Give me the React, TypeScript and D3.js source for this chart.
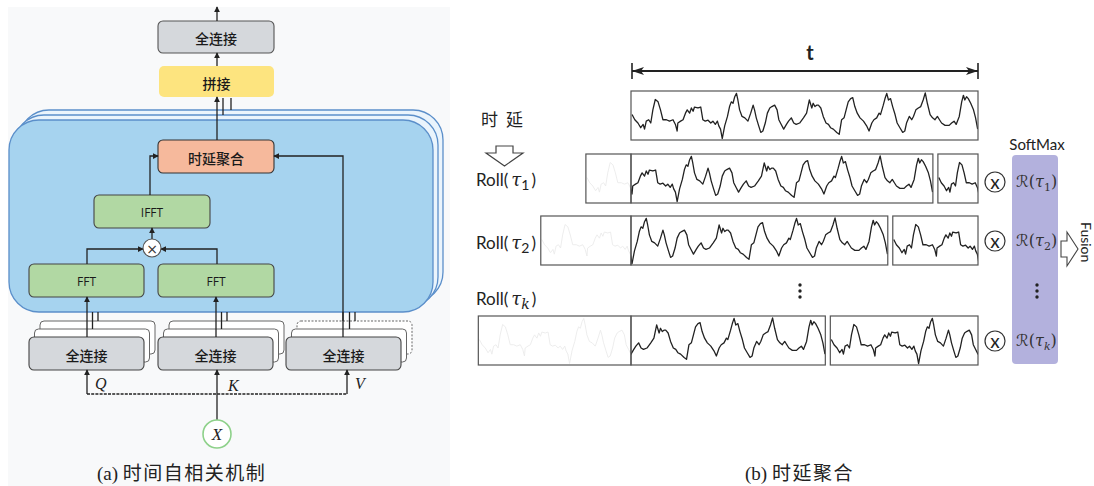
import React, { useEffect, useRef } from 'react';
import * as d3 from 'd3';

// waveform traced off the top (un-rolled) row: [time 0-100, level 0-100]
const signal: [number, number][] = [
  [0.3, 52], [1.1, 41], [2.0, 34], [2.8, 24], [3.5, 31], [3.9, 21], [4.4, 38], [5.1, 41], [5.7, 34], [6.3, 62],
  [7.0, 84], [7.8, 79], [8.5, 62], [9.2, 41], [10.2, 41], [11.1, 38], [12.1, 41], [12.8, 31], [13.3, 17], [13.5, 34],
  [14.3, 38], [15.0, 41], [15.7, 55], [16.2, 62], [16.9, 55], [17.4, 66], [17.9, 59], [18.3, 68], [19.3, 66], [20.1, 68],
  [20.7, 41], [21.4, 38], [22.2, 40], [23.0, 34], [23.6, 38], [24.3, 31], [24.9, 38], [25.3, 28], [25.8, 21], [26.3, 1],
  [27.0, 28], [27.8, 48], [28.4, 69], [28.9, 79], [29.4, 76], [29.9, 90], [30.4, 97], [30.8, 83], [31.3, 62], [32.0, 48],
  [32.8, 45], [33.7, 38], [34.5, 55], [35.2, 72], [35.6, 62], [36.1, 45], [36.8, 28], [37.4, 14], [38.0, 17], [38.7, 34],
  [39.3, 55], [40.0, 66], [40.6, 69], [41.4, 72], [42.1, 62], [42.6, 41], [43.3, 31], [44.0, 21], [44.8, 31], [45.4, 38],
  [46.2, 45], [46.9, 34], [47.6, 31], [48.6, 34], [49.7, 45], [50.6, 55], [51.4, 83], [52.1, 66], [52.5, 76], [53.0, 69],
  [53.5, 72], [54.0, 72], [54.7, 66], [55.4, 48], [56.2, 34], [56.9, 31], [57.5, 24], [58.3, 21], [59.3, 14], [60.0, 10],
  [60.7, 41], [61.4, 45], [62.0, 62], [62.6, 79], [63.3, 86], [63.9, 88], [64.5, 69], [65.2, 55], [66.0, 45], [67.0, 38],
  [67.9, 28], [68.6, 17], [69.4, 34], [70.0, 41], [70.8, 45], [71.5, 55], [71.9, 52], [72.7, 72], [73.2, 86], [73.7, 97],
  [74.2, 83], [74.8, 86], [75.4, 69], [76.1, 52], [76.7, 34], [77.5, 24], [78.3, 14], [78.9, 17], [79.4, 34], [80.2, 48],
  [80.9, 41], [81.4, 48], [82.1, 62], [82.8, 66], [83.5, 69], [84.2, 83], [84.8, 98], [85.4, 76], [86.2, 52], [86.9, 45],
  [87.6, 41], [88.3, 48], [88.9, 41], [89.5, 34], [90.5, 29], [91.7, 29], [92.4, 34], [93.1, 38], [93.7, 31], [94.6, 48],
  [95.3, 79], [95.8, 93], [96.2, 83], [96.7, 90], [97.2, 86], [97.9, 76], [98.7, 62], [99.3, 45], [99.9, 21],
];

// roll lags (same time units as signal) and their subscripts
const rollLags = [13, 26, 44];
const rollSubs = ['1', '2', 'k'];
const projLabels = ['Q', 'K', 'V'];

const App = () => {
  const ref = useRef<SVGSVGElement>(null);

  useEffect(() => {
    const svg = d3.select(ref.current);
    svg.selectAll('*').remove();
    const defs = svg.append('defs');
    defs.append('marker')
      .attr('id', 'arr')
      .attr('viewBox', '0 0 8 8')
      .attr('refX', 7).attr('refY', 4)
      .attr('markerWidth', 6).attr('markerHeight', 6)
      .attr('markerUnits', 'userSpaceOnUse')
      .attr('orient', 'auto')
      .append('path').attr('d', 'M0,0 L8,4 L0,8 z').attr('fill', '#222');
    defs.append('marker')
      .attr('id', 'tarr')
      .attr('viewBox', '0 0 12 10')
      .attr('refX', 12).attr('refY', 5)
      .attr('markerWidth', 12).attr('markerHeight', 10)
      .attr('markerUnits', 'userSpaceOnUse')
      .attr('orient', 'auto-start-reverse')
      .append('path').attr('d', 'M0,1 L12,5 L0,9 L3,5 z').attr('fill', '#222');

    const cjk = '"Noto Sans CJK SC", sans-serif';
    const line = d3.line();
    const arrow = (pts: [number, number][], head = true, dash = '') => {
      const p = svg.append('path')
        .attr('d', line(pts))
        .attr('fill', 'none')
        .attr('stroke', '#222')
        .attr('stroke-width', 1.3);
      if (head) p.attr('marker-end', 'url(#arr)');
      if (dash) p.attr('stroke-dasharray', dash);
    };
    const box = (x: number, y: number, w: number, h: number, fill: string, stroke: string, label: string, fs = 14, font = cjk) => {
      svg.append('rect')
        .attr('x', x).attr('y', y).attr('width', w).attr('height', h)
        .attr('rx', 5)
        .attr('fill', fill)
        .attr('stroke', stroke)
        .attr('stroke-width', 1.1);
      if (label) {
        svg.append('text')
          .attr('x', x + w / 2).attr('y', y + h / 2 + 1)
          .attr('text-anchor', 'middle')
          .attr('dominant-baseline', 'central')
          .attr('font-family', font)
          .attr('font-size', fs)
          .attr('font-weight', 500)
          .attr('fill', '#1a1a1a')
          .text(label);
      }
    };

    // ---------- (a) ----------
    svg.append('rect').attr('x', 8).attr('y', 7).attr('width', 442).attr('height', 479).attr('fill', '#f8f9fa');

    // stacked blue block
    [[10, -10], [5, -5]].forEach(([dx, dy]) => {
      svg.append('rect')
        .attr('x', 9 + dx).attr('y', 120 + dy).attr('width', 424).attr('height', 192).attr('rx', 30)
        .attr('fill', '#eaf4fc').attr('stroke', '#5b8fca').attr('stroke-width', 1.3);
    });
    svg.append('rect')
      .attr('x', 9).attr('y', 120).attr('width', 424).attr('height', 192).attr('rx', 30)
      .attr('fill', '#a6d3ef').attr('stroke', '#5b8fca').attr('stroke-width', 1.3);

    box(158, 21, 116, 32, '#d5d8dc', '#555', '全连接');
    box(159, 66, 115, 31, '#fde47f', 'none', '拼接');
    box(158, 140, 116, 33, '#f6b99c', '#333', '时延聚合');
    box(94, 195, 116, 33, '#b1d8a3', '#444', 'IFFT', 12, '"Open Sans", sans-serif');
    box(29, 264, 115, 33, '#b1d8a3', '#444', 'FFT', 12, '"Open Sans", sans-serif');
    box(158, 264, 116, 33, '#b1d8a3', '#444', 'FFT', 12, '"Open Sans", sans-serif');

    arrow([[217, 21], [217, 7]]);
    arrow([[217, 66], [217, 53]]);
    arrow([[217, 140], [217, 97]]);
    arrow([[223, 115], [223, 98]], false);
    arrow([[231, 110], [231, 98]], false);
    arrow([[150, 195], [150, 156], [158, 156]]);
    arrow([[343, 337], [343, 156], [274, 156]]);
    arrow([[152, 239], [152, 228]]);
    arrow([[87, 264], [87, 249], [143, 249]]);
    arrow([[217, 264], [217, 249], [161, 249]]);

    svg.append('circle').attr('cx', 152).attr('cy', 248).attr('r', 9)
      .attr('fill', '#fff').attr('stroke', '#555').attr('stroke-width', 1.1);
    svg.append('text').attr('x', 152).attr('y', 249).attr('text-anchor', 'middle')
      .attr('dominant-baseline', 'central').attr('font-family', 'DejaVu Sans').attr('font-size', 14)
      .attr('fill', '#333').text('×');

    // stacked projection blocks
    const stackX = [29, 158, 286];
    stackX.forEach((x, i) => {
      const cx = x + 58;
      [[11, -16], [5.5, -8]].forEach(([dx, dy]) => {
        svg.append('rect')
          .attr('x', x + dx).attr('y', 337 + dy).attr('width', 115).attr('height', 33).attr('rx', 4)
          .attr('fill', '#fff').attr('stroke', '#666').attr('stroke-width', 1)
          .attr('stroke-dasharray', i === 2 && dx > 10 ? '2 1.5' : null);
      });
      box(x, 337, 115, 33, '#d5d8dc', '#444', '全连接');
      if (i < 2) arrow([[cx, 337], [cx, 297]]);
      arrow([[cx + 5.5, 329], [cx + 5.5, 312]], false);
      arrow([[cx + 11, 321], [cx + 11, 312]], false);
    });
    arrow([[343, 337], [343, 312]], false);

    const inX = [87, 217, 347];
    arrow([[87, 394], [347, 394]], false, '3 1.2');
    inX.forEach((x, i) => {
      arrow([[x, i === 1 ? 420 : 394], [x, 370]]);
      svg.append('text')
        .attr('x', x + (i === 1 ? 11 : 8)).attr('y', i === 1 ? 391 : 389)
        .attr('font-family', '"Liberation Serif", serif').attr('font-style', 'italic')
        .attr('font-size', 16).attr('fill', '#222')
        .text(projLabels[i]);
    });
    svg.append('circle').attr('cx', 217).attr('cy', 434).attr('r', 14)
      .attr('fill', '#fff').attr('stroke', '#8ed18a').attr('stroke-width', 1.6);
    svg.append('text').attr('x', 217).attr('y', 440).attr('text-anchor', 'middle')
      .attr('font-family', '"Liberation Serif", serif').attr('font-style', 'italic')
      .attr('font-size', 17).attr('fill', '#222').text('X');

    const capA = svg.append('text').attr('x', 97).attr('y', 480).attr('font-size', 19).attr('fill', '#222');
    capA.append('tspan').attr('font-family', '"Liberation Serif", serif').text('(a) ');
    capA.append('tspan').attr('font-family', cjk).attr('letter-spacing', 1.5).text('时间自相关机制');

    // ---------- (b) ----------
    const x0 = 631;
    const x1 = 978;
    const rowH = 49;
    const k = (x1 - x0) / 100;
    const yLevel = (top: number) => d3.scaleLinear().domain([0, 100]).range([top + rowH - 1, top + 1]);

    let clipN = 0;
    const wave = (xs: d3.ScaleLinear<number, number>, top: number, bx: number, bw: number, color: string, sw: number) => {
      const id = `clip${clipN++}`;
      defs.append('clipPath').attr('id', id)
        .append('rect').attr('x', bx).attr('y', top).attr('width', bw).attr('height', rowH);
      const ys = yLevel(top);
      svg.append('path')
        .attr('d', d3.line<[number, number]>().x(d => xs(d[0])).y(d => ys(d[1]))(signal))
        .attr('clip-path', `url(#${id})`)
        .attr('fill', 'none').attr('stroke', color).attr('stroke-width', sw)
        .attr('stroke-linejoin', 'round');
      svg.append('rect').attr('x', bx).attr('y', top).attr('width', bw).attr('height', rowH)
        .attr('fill', 'none').attr('stroke', '#555').attr('stroke-width', 1.2);
    };

    // time axis
    svg.append('line').attr('x1', x0 + 1).attr('x2', x1).attr('y1', 71).attr('y2', 71)
      .attr('stroke', '#222').attr('stroke-width', 1.8)
      .attr('marker-start', 'url(#tarr)').attr('marker-end', 'url(#tarr)');
    [x0 + 1, x1].forEach(x => svg.append('line').attr('x1', x).attr('x2', x).attr('y1', 63).attr('y2', 79)
      .attr('stroke', '#222').attr('stroke-width', 1.6));
    svg.append('text').attr('x', 810).attr('y', 60).attr('text-anchor', 'middle')
      .attr('font-family', 'Lato, sans-serif').attr('font-weight', 700).attr('font-size', 20)
      .attr('fill', '#222').text('t');

    wave(d3.scaleLinear().domain([0, 100]).range([x0, x1]), 91, x0, x1 - x0, '#222', 1.3);

    svg.append('text').attr('x', 481).attr('y', 126)
      .attr('font-family', cjk).attr('font-size', 17).attr('letter-spacing', 8)
      .attr('fill', '#222').text('时延');
    svg.append('polygon')
      .attr('points', '496,146 513,146 513,153 523,153 504.5,166 486,153 496,153')
      .attr('fill', '#fff').attr('stroke', '#444').attr('stroke-width', 1.2);

    const rowTops = [154, 216, 316];
    const labelY = [186, 249, 305];
    const multY = [182, 241, 341];
    rollLags.forEach((tau, i) => {
      const top = rowTops[i];
      const fadeX = x0 - tau * k;
      const mainEnd = x0 + (100 - tau) * k;
      const tailX = mainEnd + 5;
      // part rolled out (faded)
      wave(d3.scaleLinear().domain([0, tau]).range([fadeX, x0]), top, fadeX, x0 - fadeX, '#ebebeb', 0.9);
      // shifted series
      wave(d3.scaleLinear().domain([tau, 100]).range([x0, mainEnd]), top, x0, mainEnd - x0, '#222', 1.3);
      // wrapped head
      wave(d3.scaleLinear().domain([0, tau]).range([tailX, x1]), top, tailX, x1 - tailX, '#222', 1.3);

      const lab = svg.append('text').attr('x', 476).attr('y', labelY[i])
        .attr('font-family', 'Lato, sans-serif').attr('font-size', 17).attr('fill', '#222');
      lab.append('tspan').text('Roll(');
      lab.append('tspan').attr('dx', 3).attr('font-family', '"DejaVu Serif", serif').attr('font-style', 'italic').attr('font-size', 18).text('τ');
      lab.append('tspan').attr('dy', 4).attr('font-size', 14).attr('font-family', i === 2 ? '"DejaVu Serif", serif' : 'Lato, sans-serif')
        .attr('font-style', i === 2 ? 'italic' : 'normal').text(rollSubs[i]);
      lab.append('tspan').attr('dy', -4).attr('dx', 2).text(')');

      svg.append('circle').attr('cx', 995).attr('cy', multY[i]).attr('r', 10)
        .attr('fill', '#fff').attr('stroke', '#333').attr('stroke-width', 1.2);
      svg.append('text').attr('x', 995).attr('y', multY[i] - 1).attr('text-anchor', 'middle')
        .attr('dominant-baseline', 'central').attr('font-family', 'Lato, sans-serif')
        .attr('font-size', 19).attr('fill', '#222').text('x');
    });

    // SoftMax weights
    svg.append('rect').attr('x', 1012).attr('y', 155).attr('width', 46).attr('height', 209).attr('rx', 4)
      .attr('fill', '#b3b1dd');
    svg.append('text').attr('x', 1037).attr('y', 150).attr('text-anchor', 'middle')
      .attr('font-family', 'Lato, sans-serif').attr('font-size', 15).attr('fill', '#222').text('SoftMax');
    rollSubs.forEach((s, i) => {
      const t = svg.append('text').attr('x', 1016).attr('y', multY[i] + 5)
        .attr('font-family', '"DejaVu Serif", serif').attr('font-size', 16).attr('fill', '#333');
      t.append('tspan').attr('font-family', '"DejaVu Sans", "DejaVu Serif", serif').text('ℛ');
      t.append('tspan').text('(');
      t.append('tspan').attr('font-style', 'italic').text('τ');
      t.append('tspan').attr('dy', 4).attr('font-size', 11).attr('font-style', i === 2 ? 'italic' : 'normal').text(s);
      t.append('tspan').attr('dy', -4).text(')');
    });
    [800, 1037].forEach(cx => [285, 291, 297].forEach(cy =>
      svg.append('circle').attr('cx', cx).attr('cy', cy).attr('r', 1.7).attr('fill', '#222')));

    svg.append('polygon')
      .attr('points', '1061,241 1067,241 1067,232 1078,249 1067,266 1067,257 1061,257')
      .attr('fill', '#fff').attr('stroke', '#444').attr('stroke-width', 1.1);
    svg.append('text').attr('transform', 'translate(1081,222) rotate(90)')
      .attr('font-family', 'Lato, sans-serif').attr('font-size', 14).attr('fill', '#222').text('Fusion');

    const capB = svg.append('text').attr('x', 745).attr('y', 480).attr('font-size', 19).attr('fill', '#222');
    capB.append('tspan').attr('font-family', '"Liberation Serif", serif').text('(b) ');
    capB.append('tspan').attr('font-family', cjk).attr('letter-spacing', 1.5).text('时延聚合');
  }, []);

  return (
    <svg ref={ref} width={1094} height={486}
      style={{ position: 'absolute', left: 0, top: 0, background: '#fff' }} />
  );
};

export default App;
